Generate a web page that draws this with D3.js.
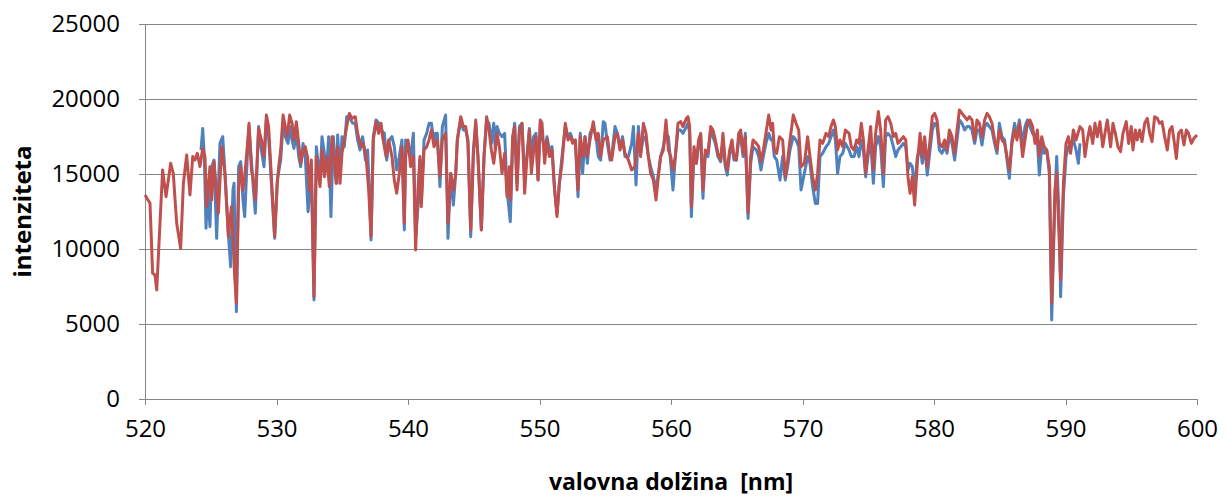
<!DOCTYPE html>
<html>
<head>
<meta charset="utf-8">
<script src="https://cdn.jsdelivr.net/npm/d3@7"></script>
<style>
  html, body { margin: 0; padding: 0; background: #ffffff; }
  svg { display: block; }
  .tick text { font-family: "Open Sans", "Liberation Sans", sans-serif; fill: #000; }
</style>
</head>
<body>
<svg id="chart" width="1229" height="496"></svg>
<script>
// Wavelength range and intensity ticks
const xTicks = [520, 530, 540, 550, 560, 570, 580, 590, 600];
const yTicks = [0, 5000, 10000, 15000, 20000, 25000];
const xTitle = "valovna dolžina\u00A0 [nm]";
const yTitle = "intenziteta";

// Spectrum 2: [wavelength nm, intensity], full range
const redSpectrum = [
[520.00,13600],[520.38,13050],[520.58,8380],[520.76,8270],[520.89,7270],[521.34,15270],[521.60,13490],[521.95,15710],[522.15,15040],[522.41,11710],[522.71,10040],[522.92,14380],[523.17,16270],[523.42,13600],[523.63,16160],[523.80,15930],[523.98,16380],[524.18,15490],[524.39,16710],[524.56,16160],[524.69,12820],[524.94,15490],[525.07,13270],[525.25,15820],[525.58,12380],[525.83,16820],[526.08,15040],[526.34,10820],
[526.57,12820],[526.69,10820],[526.82,8160],[526.95,6380],[527.12,13930],[527.28,15490],[527.45,13930],[527.58,14820],[527.78,16820],[527.91,18380],[528.09,15270],[528.21,14820],[528.39,13270],[528.64,18040],[528.85,17270],[529.05,16160],[529.23,18930],[529.40,18160],[529.61,14820],[529.86,10820],[530.06,14380],[530.17,15490],[530.32,16600],[530.50,18930],[530.67,18160],[530.82,17490],[531.00,18930],[531.18,18380],[531.33,17270],[531.51,18490],[531.69,17040],[531.84,15710],[532.02,16490],[532.19,16820],[532.35,16160],[532.52,13930],[532.65,15930],[532.85,6820],[533.03,16160],
[533.31,14160],[533.46,16600],[533.64,14820],[533.82,16160],[534.02,14160],[534.22,17490],[534.40,15710],[534.53,14380],[534.65,16820],[534.83,14380],[534.98,16380],[535.16,17270],[535.34,18160],[535.54,19040],[535.74,18710],[535.99,18820],[536.17,17710],[536.43,16820],[536.60,17040],[536.81,16160],[537.01,13930],[537.19,10820],[537.36,17270],[537.57,18490],[537.77,17710],[537.95,18380],[538.07,17490],[538.33,16160],[538.53,17270],[538.78,16160],[538.96,14600],[539.14,13710],[539.34,15040],[539.54,16820],[539.72,11710],
[539.82,16160],[540.00,17270],[540.20,15490],[540.41,16160],[540.58,9930],[540.76,13930],[540.91,16160],[541.01,12820],[541.22,16600],[541.42,16820],[541.60,17270],[541.78,17930],[541.98,16820],[542.23,17270],[542.43,14820],[542.61,17270],[542.86,17710],[543.04,11710],[543.25,15040],[543.45,13930],[543.63,15040],[543.75,17270],[544.01,18820],[544.21,18160],[544.39,18160],[544.56,17040],[544.77,11270],[544.97,16160],[545.15,18600],[545.32,16160],[545.58,11270],[545.78,16160],[545.98,18820],[546.16,17930],[546.34,16600],
[546.52,15710],[546.64,16600],[546.77,17710],[546.95,16820],[547.15,15040],[547.35,16380],[547.53,13490],[547.71,15490],[547.81,13270],[547.96,17490],[548.11,18160],[548.29,13930],[548.47,17710],[548.67,18380],[548.87,13710],[549.05,16160],[549.23,17930],[549.38,15040],[549.56,16600],[549.73,17490],[549.89,14600],[550.06,18600],[550.19,18380],[550.39,15710],[550.57,17270],[550.75,16160],[550.95,16600],[551.15,13930],[551.33,12160],[551.51,14380],[551.71,15710],[551.96,18380],[552.17,17270],[552.35,17490],[552.52,17040],[552.73,17270],[552.93,13930],[553.10,17490],
[553.28,16160],[553.46,17490],[553.64,16160],[553.84,17270],[554.09,18490],[554.30,17270],[554.47,17710],[554.65,16160],[554.85,17270],[555.16,17490],[555.36,16160],[555.49,15930],[555.74,17490],[555.92,17710],[556.12,16600],[556.32,17270],[556.50,16380],[556.76,15930],[557.01,15270],[557.26,15490],[557.52,17710],[557.69,16160],[557.90,18380],[558.10,17710],[558.28,16160],[558.45,15040],[558.66,14600],[558.86,13270],[559.04,14820],[559.21,16160],[559.42,16600],[559.62,18600],[559.80,16600],
[559.98,16160],[560.15,15270],[560.33,16160],[560.53,18380],[560.74,18490],[560.91,18160],[561.17,18710],[561.29,18820],[561.42,18160],[561.55,12820],[561.75,16820],[561.93,15710],[562.10,17270],[562.26,17710],[562.43,13930],[562.61,16600],[562.81,16380],[563.02,18160],[563.19,17930],[563.37,17270],[563.57,16380],[563.78,15930],[563.95,17710],[564.13,15710],[564.28,15270],[564.46,16600],[564.64,17270],[564.79,16160],[564.97,15930],[565.15,17710],[565.30,17930],[565.48,16380],[565.65,17490],[565.86,12380],[566.06,16160],[566.24,17270],[566.49,17040],
[566.67,16820],[566.84,15820],[567.02,16600],[567.22,17710],[567.43,18930],[567.61,17930],[567.73,18380],[567.86,16600],[568.04,16380],[568.24,17490],[568.49,17270],[568.69,14820],[568.87,15930],[569.05,17270],[569.30,18930],[569.51,18380],[569.71,17930],[569.89,15490],[570.14,15710],[570.39,17490],[570.57,16160],[570.77,14820],[570.98,13930],[571.15,15040],[571.33,17270],[571.53,17040],[571.79,17710],[571.99,17490],[572.17,18160],[572.35,18600],[572.50,18160],[572.67,16600],[572.85,17270],[573.06,16820],[573.26,17930],
[573.54,17710],[573.71,16820],[573.92,16600],[574.12,17270],[574.30,17040],[574.47,18380],[574.63,17270],[574.80,15040],[574.98,16600],[575.18,18160],[575.39,15270],[575.56,17710],[575.77,19160],[575.94,17930],[576.15,15040],[576.32,18600],[576.50,18820],[576.71,18380],[576.91,17490],[577.09,17710],[577.26,17040],[577.47,17270],[577.67,17490],[577.85,17270],[578.02,14820],[578.18,13710],[578.35,14820],[578.53,12930],[578.73,15710],[578.94,17710],[579.11,16160],[579.29,17490],[579.49,15490],[579.70,17270],[579.87,18820],
[580.05,19040],[580.23,18600],[580.41,17040],[580.61,16820],[580.81,17270],[580.99,16600],[581.17,17930],[581.37,17490],[581.57,16380],[581.75,17930],[581.93,19270],[582.13,19040],[582.33,18820],[582.51,18600],[582.69,18820],[582.89,18600],[583.09,17270],[583.27,18600],[583.45,18380],[583.65,17490],[583.85,18600],[584.03,19040],[584.21,18820],[584.41,18380],[584.61,17270],[584.79,16600],[584.97,17930],[585.17,17270],[585.37,17040],[585.55,16160],[585.73,15270],[585.93,17040],[586.13,17930],[586.31,17270],[586.49,18380],
[586.74,16160],[586.92,17270],[587.10,18380],[587.30,18600],[587.50,18160],[587.68,17040],[587.86,17930],[588.01,16160],[588.19,17490],[588.37,16820],[588.57,16600],[588.77,15490],[588.95,6380],[589.20,13930],[589.33,15040],[589.53,10380],[589.63,7930],[589.84,14380],[590.04,17040],[590.22,17490],[590.39,16380],[590.60,17930],[590.80,17270],[591.10,18160],[591.31,17930],[591.48,16160],[591.66,17270],[591.86,18160],[592.07,17040],[592.24,18380],[592.42,17490],[592.62,18490],[592.83,16820],[593.00,17710],[593.18,18600],
[593.43,16820],[593.61,18380],[593.79,17710],[593.99,16820],[594.19,16490],[594.37,17710],[594.62,18490],[594.80,17040],[595.00,18160],[595.13,16600],[595.31,17930],[595.46,17270],[595.64,17930],[595.82,17160],[596.02,18380],[596.22,18710],[596.40,17710],[596.58,17160],[596.78,18820],[596.98,18710],[597.16,18380],[597.34,18490],[597.54,17490],[597.74,16600],[597.92,17930],[598.10,18160],[598.25,17270],[598.43,16040],[598.60,17710],[598.81,17930],[599.01,16930],[599.19,17930],[599.36,17710],[599.57,17040],[599.77,17380],[600.00,17600]
];

// Spectrum 1: [wavelength nm, intensity], partial range
const blueSpectrum = [
[524.26,16600],[524.39,18040],[524.51,16160],[524.64,11380],[524.77,13930],[524.94,11490],[525.07,15490],[525.25,15930],[525.45,10710],[525.70,17040],[525.91,17490],[526.08,15040],[526.34,11040],
[526.51,8820],[526.69,13930],[526.77,14380],[526.95,5820],[527.12,15490],[527.28,15820],[527.45,13270],[527.58,12160],[527.78,16160],[527.91,18160],[528.09,15930],[528.21,14380],[528.39,12380],[528.64,18160],[528.85,16600],[529.05,15490],[529.23,18600],[529.40,17490],[529.61,14380],[529.86,10710],[530.06,14600],[530.32,15930],[530.50,18380],[530.67,17490],[530.88,17040],[531.00,18160],[531.18,17270],[531.33,16710],[531.51,17710],[531.69,16160],[531.84,15490],[532.02,17040],[532.19,16160],[532.40,12490],[532.52,13930],[532.65,15040],[532.85,6600],[533.03,16820],
[533.31,14600],[533.46,17490],[533.64,16380],[533.82,15490],[533.97,17490],[534.14,12160],[534.32,17490],[534.58,14380],[534.65,17600],[534.83,14820],[534.98,17490],[535.16,16820],[535.34,18820],[535.54,18820],[535.79,18380],[535.99,18380],[536.17,17270],[536.35,16600],[536.55,17490],[536.76,15930],[536.93,16600],[537.06,13930],[537.19,10600],[537.36,17490],[537.57,18600],[537.77,18380],[537.95,17930],[538.20,17710],[538.38,15930],[538.58,17270],[538.78,17490],[538.96,16820],[539.14,15270],[539.34,16160],[539.54,17270],[539.72,11270],
[539.82,17270],[540.00,17040],[540.20,16160],[540.41,17710],[540.58,10820],[540.76,12820],[540.91,15930],[541.01,13040],[541.22,17270],[541.42,17710],[541.60,18380],[541.78,18380],[541.98,17040],[542.10,17710],[542.23,17710],[542.43,14160],[542.61,18160],[542.86,18930],[543.04,10710],[543.25,15040],[543.45,12930],[543.63,15040],[543.75,17270],[544.01,18600],[544.21,17930],[544.39,17930],[544.56,17270],[544.77,10820],[544.97,16600],[545.15,18380],[545.32,16160],[545.58,11270],[545.78,16160],[545.98,18600],[546.16,18380],[546.34,17040],
[546.52,18380],[546.64,16600],[546.77,18160],[546.95,17710],[547.15,17490],[547.35,17710],[547.53,13930],[547.78,11820],[547.96,17270],[548.11,18380],[548.29,14380],[548.47,18160],[548.67,18380],[548.87,14820],[549.05,16160],[549.23,18040],[549.38,16160],[549.56,17490],[549.73,17710],[549.89,14600],[550.06,18380],[550.19,17490],[550.39,16600],[550.57,17490],[550.75,16600],[550.95,16820],[551.15,13930],[551.33,12380],[551.51,14380],[551.71,16160],[551.96,18160],[552.17,17490],[552.35,17710],[552.52,17270],[552.73,17040],[552.93,13490],[553.10,17710],
[553.28,15040],[553.46,17490],[553.64,15710],[553.84,17710],[554.09,18160],[554.30,17490],[554.47,16160],[554.65,15930],[554.85,18490],[554.98,18380],[555.16,17040],[555.36,15930],[555.49,16160],[555.74,18160],[555.92,17710],[556.12,16820],[556.32,17490],[556.50,16160],[556.76,16160],[557.01,17040],[557.14,18160],[557.34,14270],[557.52,18160],[557.69,16380],[557.90,17490],[558.10,17270],[558.28,16160],[558.45,15490],[558.66,14820],[558.86,13930],[559.04,15040],[559.21,16160],[559.42,16820],[559.62,17710],[559.80,17490],
[559.98,15710],[560.15,13930],[560.33,16160],[560.53,17930],[560.74,17930],[560.91,17710],[561.17,18160],[561.29,18380],[561.42,17710],[561.55,12160],[561.75,16380],[561.93,15710],[562.10,17040],[562.26,17490],[562.43,13380],[562.61,16380],[562.81,16160],[563.02,17930],[563.19,17490],[563.37,17040],[563.57,16160],[563.78,15820],[563.95,17270],[564.13,15490],[564.28,14930],[564.46,16380],[564.64,16820],[564.79,15930],[564.97,15930],[565.15,17270],[565.30,17490],[565.48,16160],[565.65,17710],[565.86,12040],[566.06,15710],[566.24,16820],[566.49,16600],
[566.67,16160],[566.84,15270],[567.02,16160],[567.22,17040],[567.43,17710],[567.61,17270],[567.73,17270],[567.86,16160],[568.04,15930],[568.29,14600],[568.49,16160],[568.69,14600],[568.87,15490],[569.05,16600],[569.30,17490],[569.51,17270],[569.71,16820],[569.89,13930],[570.14,15040],[570.39,16160],[570.57,15710],[570.77,14160],[570.98,13040],[571.15,13040],[571.33,16160],[571.53,16380],[571.79,16820],[571.99,17040],[572.17,17490],[572.35,17930],[572.50,17270],[572.67,15040],[572.85,16160],[573.06,16380],[573.26,17040],
[573.54,16600],[573.71,16160],[573.92,16160],[574.12,16820],[574.30,16160],[574.47,17270],[574.63,16600],[574.80,14820],[574.98,16160],[575.18,17270],[575.39,14380],[575.56,16820],[575.77,17490],[575.94,16820],[576.15,14160],[576.32,17490],[576.50,17710],[576.71,17490],[576.91,16820],[577.09,16160],[577.26,16600],[577.47,16820],[577.67,17040],[577.85,16820],[578.02,15270],[578.18,15710],[578.35,15490],[578.53,13930],[578.73,16160],[578.94,16820],[579.11,15710],[579.29,16820],[579.49,14930],[579.70,16600],[579.87,17930],
[580.05,18380],[580.23,18160],[580.41,16600],[580.61,16380],[580.81,16820],[580.99,16380],[581.17,17490],[581.37,17040],[581.57,15930],[581.75,17270],[581.93,18600],[582.13,18380],[582.33,17930],[582.51,18160],[582.69,18160],[582.89,17930],[583.09,17040],[583.27,17930],[583.45,17930],[583.65,16930],[583.85,18160],[584.03,18380],[584.21,18160],[584.41,17930],[584.61,17040],[584.79,16380],[584.97,18380],[585.17,17490],[585.37,17270],[585.55,15930],[585.73,14710],[585.93,17270],[586.13,18380],[586.31,17490],[586.49,18600],
[586.74,17040],[586.92,18160],[587.10,18600],[587.30,18160],[587.50,17710],[587.68,17490],[587.86,17270],[588.01,14930],[588.19,16820],[588.37,16380],[588.57,16600],[588.77,15040],[588.95,5270],[589.20,13490],[589.33,16160],[589.53,11710],[589.63,6820],[589.84,13490],[590.04,16160],[590.22,16820],[590.39,16820],[590.60,17270],[590.80,16600],[590.98,15710],[591.10,17040]
];

const width = 1229, height = 496;
const margin = { left: 145, right: 32, top: 24, bottom: 97 };

const svg = d3.select("#chart");

const x = d3.scaleLinear().domain([520, 600]).range([margin.left, width - margin.right]);
const y = d3.scaleLinear().domain([0, 25000]).range([height - margin.bottom, margin.top]);

const axisColor = "#868686";
const fontStack = "'Open Sans', 'Liberation Sans', sans-serif";

// Horizontal gridlines
svg.append("g")
  .selectAll("line")
  .data(yTicks.filter(d => d > 0))
  .join("line")
  .attr("x1", x(520)).attr("x2", x(600))
  .attr("y1", d => y(d)).attr("y2", d => y(d))
  .attr("stroke", axisColor).attr("stroke-width", 1)
  .attr("shape-rendering", "crispEdges");

// X axis
const xAxis = svg.append("g")
  .attr("transform", `translate(0,${y(0)})`)
  .call(d3.axisBottom(x).tickValues(xTicks).tickSize(6).tickPadding(15).tickFormat(d3.format("d")));
xAxis.select(".domain").attr("stroke", axisColor).attr("shape-rendering", "crispEdges");
xAxis.selectAll(".tick line").attr("stroke", axisColor).attr("shape-rendering", "crispEdges");
xAxis.selectAll(".tick text").attr("font-size", 24);

// Y axis
const yAxis = svg.append("g")
  .attr("transform", `translate(${x(520)},0)`)
  .call(d3.axisLeft(y).tickValues(yTicks).tickSize(6).tickPadding(19).tickFormat(d3.format("d")));
yAxis.select(".domain").attr("stroke", axisColor).attr("shape-rendering", "crispEdges");
yAxis.selectAll(".tick line").attr("stroke", axisColor).attr("shape-rendering", "crispEdges");
yAxis.selectAll(".tick text").attr("font-size", 24);

// Spectrum lines
const line = d3.line()
  .x(d => x(d[0]))
  .y(d => y(d[1]));

svg.append("path")
  .datum(blueSpectrum)
  .attr("fill", "none")
  .attr("stroke", "#4F81BD")
  .attr("stroke-width", 3)
  .attr("stroke-linejoin", "round")
  .attr("d", line);

svg.append("path")
  .datum(redSpectrum)
  .attr("fill", "none")
  .attr("stroke", "#C0504D")
  .attr("stroke-width", 3)
  .attr("stroke-linejoin", "round")
  .attr("d", line);

// Axis titles
svg.append("text")
  .attr("x", (x(520) + x(600)) / 2)
  .attr("y", 490)
  .attr("text-anchor", "middle")
  .attr("font-family", fontStack)
  .attr("font-weight", "bold")
  .attr("font-size", 23)
  .attr("fill", "#000")
  .text(xTitle);

svg.append("text")
  .attr("transform", `translate(31,${(y(0) + y(25000)) / 2}) rotate(-90)`)
  .attr("text-anchor", "middle")
  .attr("font-family", fontStack)
  .attr("font-weight", "bold")
  .attr("font-size", 24)
  .attr("fill", "#000")
  .text(yTitle);
</script>
</body>
</html>
